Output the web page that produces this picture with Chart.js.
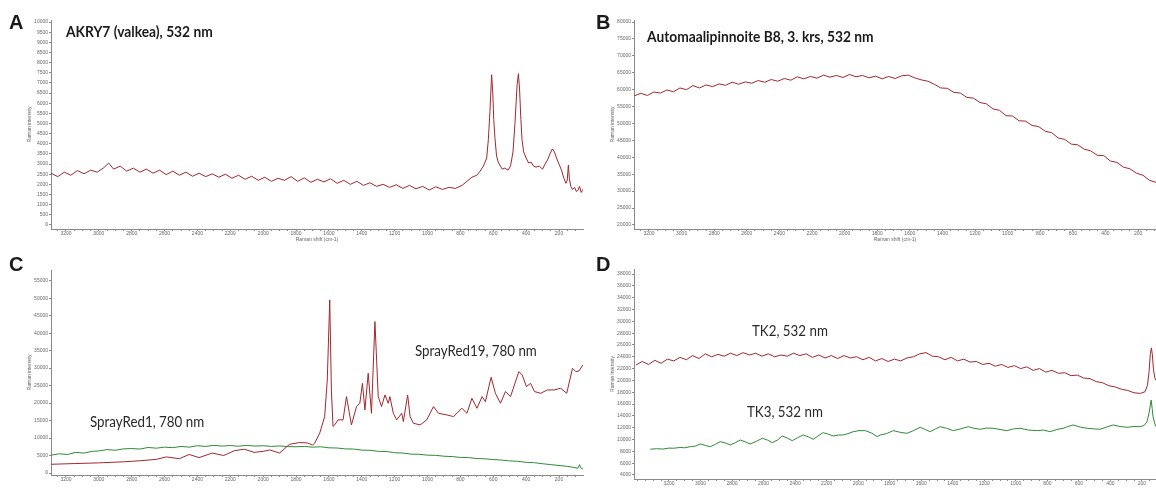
<!DOCTYPE html>
<html>
<head>
<meta charset="utf-8">
<script src="https://cdn.jsdelivr.net/npm/chart.js@4.4.1/dist/chart.umd.min.js"></script>
<style>
  html, body { margin: 0; padding: 0; background: #fff; }
  #fig { position: relative; width: 1156px; height: 489px; overflow: hidden; background: #fff; }
  #fig canvas { position: absolute; }
  .txt { position: absolute; white-space: nowrap; line-height: 1; color: #1b1b1b; transform-origin: left top; }
  .letter { font-family: "Liberation Sans", Arial, sans-serif; font-weight: bold; font-size: 20px; }
  .head { font-family: Lato, "Open Sans", sans-serif; font-weight: bold; font-size: 14.5px; transform: scaleX(0.95); }
  .tag { font-family: Lato, "Open Sans", sans-serif; font-size: 15.5px; color: #2a2a2a; transform: scaleX(0.86); }
</style>
</head>
<body>
<div id="fig">
  <canvas id="chartA" width="590" height="246" style="left:0;top:0"></canvas>
  <canvas id="chartB" width="566" height="246" style="left:590px;top:0"></canvas>
  <canvas id="chartC" width="590" height="243" style="left:0;top:246px"></canvas>
  <canvas id="chartD" width="566" height="243" style="left:590px;top:246px"></canvas>

  <div class="txt letter" style="left:9px;top:12px">A</div>
  <div class="txt letter" style="left:596px;top:12px">B</div>
  <div class="txt letter" style="left:9px;top:254px">C</div>
  <div class="txt letter" style="left:596px;top:254px">D</div>

  <div class="txt head" style="left:66px;top:25px">AKRY7 (valkea), 532 nm</div>
  <div class="txt head" style="left:647px;top:30px">Automaalipinnoite B8, 3. krs, 532 nm</div>
  <div class="txt tag" style="left:90px;top:414px">SprayRed1, 780 nm</div>
  <div class="txt tag" style="left:415px;top:343px">SprayRed19, 780 nm</div>
  <div class="txt tag" style="left:752px;top:323px">TK2, 532 nm</div>
  <div class="txt tag" style="left:747px;top:404px">TK3, 532 nm</div>
</div>

<script>
// tick labels
const shiftLabels = [3200, 3000, 2800, 2600, 2400, 2200, 2000, 1800, 1600, 1400, 1200, 1000, 800, 600, 400, 200];
const akryYTicks = [0, 500, 1000, 1500, 2000, 2500, 3000, 3500, 4000, 4500, 5000,
  5500, 6000, 6500, 7000, 7500, 8000, 8500, 9000, 9500, 10000];
const autoYTicks = [20000, 25000, 30000, 35000, 40000, 45000, 50000, 55000, 60000,
  65000, 70000, 75000, 80000];
const sprayYTicks = [0, 5000, 10000, 15000, 20000, 25000, 30000, 35000, 40000,
  45000, 50000, 55000];
const tkYTicks = [4000, 6000, 8000, 10000, 12000, 14000, 16000, 18000, 20000, 22000,
  24000, 26000, 28000, 30000, 32000, 34000, 36000, 38000];

// A: AKRY7 (valkea), 532 nm
const akryShift = [3290, 3250, 3210, 3170, 3130, 3090, 3050, 3010, 2970, 2940,
  2910, 2870, 2830, 2790, 2750, 2710, 2670, 2630, 2590, 2550, 2510, 2470, 2430, 2390,
  2350, 2310, 2270, 2230, 2190, 2150, 2110, 2070, 2030, 1990, 1950, 1910, 1870, 1830,
  1790, 1750, 1710, 1670, 1630, 1590, 1550, 1510, 1470, 1430, 1390, 1350, 1310, 1270,
  1230, 1190, 1150, 1110, 1070, 1030, 990, 950, 910, 870, 830, 790,
  760, 730, 700, 680, 660, 640, 630, 620, 610, 603, 597, 590, 580, 570, 560, 545, 530,
  510, 495, 480, 468, 455, 447, 440, 432, 425, 415, 400, 385, 370, 355, 340, 320, 300,
  285, 270, 255, 240, 228, 215, 200, 185, 170, 158, 150, 143, 137, 128, 118, 105, 95,
  85, 75, 65, 55];
const akryIntensity = [2550, 2380, 2600, 2450, 2680, 2520, 2700, 2600, 2820, 3050,
  2750, 2900, 2650, 2800, 2600, 2750, 2550, 2700, 2480, 2650, 2450, 2600, 2400, 2550,
  2380, 2520, 2350, 2500, 2300, 2450, 2250, 2400, 2200, 2350, 2150, 2300, 2200, 2380,
  2150, 2320, 2100, 2250, 2120, 2280, 2050, 2200, 2000, 2150, 1950, 2080, 1900, 2000,
  1850, 1980, 1800, 1950, 1780, 1900, 1720, 1880, 1750, 1850, 1800, 1950,
  2150, 2350, 2450, 2650, 2900, 3300, 4200, 5600, 7400, 6500, 5200, 4300, 3400, 3100,
  2950, 2750, 2800, 2700, 2900, 3600, 5000, 6900, 7450, 6700, 5200, 4200, 3600, 3300,
  3050, 3100, 2900, 2850, 2900, 2750, 3000, 3200, 3500, 3750, 3600, 3300, 3000, 2700,
  2300, 2050, 2200, 2950, 2300, 1900, 1750, 1850, 1650, 1700, 1900, 1600, 1750];

// B: Automaalipinnoite B8, 3. krs, 532 nm
const autoShift = [3290, 3250, 3210, 3170, 3130, 3090, 3050, 3010, 2970, 2930,
  2890, 2850, 2810, 2770, 2730, 2690, 2650, 2610, 2570, 2530, 2490, 2450, 2410, 2370,
  2330, 2290, 2250, 2210, 2170, 2130, 2090, 2050, 2010, 1970, 1930, 1890, 1850, 1810,
  1770, 1730, 1690, 1650, 1610, 1570, 1530, 1490, 1450, 1410, 1370, 1330, 1290, 1250,
  1210, 1170, 1130, 1090, 1050, 1010, 970, 930, 890, 850, 810, 770, 730, 690, 650, 610,
  570, 530, 490, 450, 410, 370, 330, 290, 250, 210, 170, 130, 90];
const autoIntensity = [58200, 58900, 58300, 59300, 59000, 59900, 59400, 60500, 60000, 61200,
  60500, 61400, 60900, 61700, 61300, 62200, 61600, 62300, 61900, 62700,
  62200, 63000, 62500, 63300, 62800, 63800, 63200, 63900, 63400, 64300,
  63700, 64200, 63600, 64500, 63800, 64200, 63500, 64000, 63200, 63900,
  63300, 64100, 64300, 63500, 62900, 62500, 61600, 60500, 60400, 59200,
  59000, 57700, 57500, 56200, 55800, 54300, 53900, 52300, 52200, 50800,
  50700, 49400, 49100, 47700, 47300, 45700, 45300, 43900, 43700, 42400,
  41900, 40600, 40500, 38900, 38500, 37100, 36600, 35300, 34700, 33200, 32600];

// C: SprayRed19 (red) and SprayRed1 (green), 780 nm
const sr19Shift = [3290, 3150, 3000, 2850, 2750, 2650, 2590, 2510, 2450, 2390,
  2310, 2240, 2175, 2115, 2055, 2000, 1960, 1900, 1840, 1780,
  1730, 1700, 1687, 1656, 1626, 1610, 1595, 1585, 1575, 1565,
  1544, 1514, 1493, 1463, 1432, 1412, 1396, 1381, 1361, 1341,
  1320, 1300, 1280, 1259, 1239, 1229, 1208, 1188, 1157, 1147,
  1121, 1106, 1086, 1045, 1005, 964, 933, 882, 842, 791,
  760, 730, 699, 668, 648, 613, 587, 556, 526, 495,
  444, 424, 398, 373, 349, 312, 271, 231, 190, 153, 118, 98, 78, 55];
const sr19Intensity = [2500, 2700, 2900, 3200, 3500, 3900, 4600, 4100, 5300, 4400,
  5700, 5000, 6400, 6800, 5900, 6200, 6600, 5700, 8200, 8700,
  8600, 8000, 8500, 11400, 16100, 26600, 49500, 23700, 13300, 13750,
  15200, 15200, 21850, 13750, 19000, 19950, 25660, 18040, 28520, 17080,
  43300, 21850, 19000, 22330, 19950, 21850, 17080, 15180, 17080, 14700,
  22330, 16130, 14230, 13750, 15180, 19000, 17080, 16610, 16130, 18510,
  17080, 21370, 18510, 21850, 20420, 27380, 22800, 19950, 23280, 21850,
  29000, 28040, 24710, 25660, 23280, 22800, 23750, 23750, 24230, 22800, 29950, 29000, 29190, 30900];
const sr1Shift = [3290, 3240, 3190, 3140, 3090, 3040, 3000, 2950, 2900, 2850,
  2800, 2750, 2700, 2650, 2600, 2550, 2500, 2450, 2400, 2350, 2300, 2250, 2200, 2150,
  2100, 2050, 2000, 1950, 1900, 1850, 1800, 1750, 1700, 1650, 1600, 1550, 1500, 1450,
  1400, 1350, 1300, 1250, 1200, 1150, 1100, 1050, 1000, 950, 900, 850, 800, 750, 700,
  650, 600, 550, 500, 450, 400, 350, 300, 250, 200, 150, 110, 85, 75, 68, 55];
const sr1Intensity = [5100, 5500, 5300, 5900, 5700, 6200, 6300, 6700, 6500, 6900,
  7000, 6850, 7300, 7100, 7400, 7250, 7600, 7400, 7800, 7600, 7900, 7700, 7850, 7650,
  7900, 7700, 7800, 7600, 7750, 7550, 7500, 7600, 7400, 7500, 7200, 7150, 6900, 6850,
  6550, 6500, 6200, 6150, 5800, 5700, 5400, 5350, 5100, 5050, 4800, 4700, 4450, 4400,
  4150, 4050, 3850, 3700, 3450, 3350, 3050, 2950, 2650, 2400, 2150, 1900, 1600, 1350,
  2400, 1500, 1150];

// D: TK2 (red) and TK3 (green), 532 nm
const tk2Shift = [3410, 3370, 3330, 3290, 3250, 3210, 3170, 3130, 3090, 3050,
  3010, 2970, 2930, 2890, 2850, 2810, 2770, 2730, 2690, 2650, 2610, 2570, 2530, 2490,
  2450, 2410, 2370, 2330, 2290, 2250, 2210, 2170, 2130, 2090, 2050, 2010, 1970, 1930,
  1890, 1850, 1810, 1770, 1730, 1690, 1650, 1610, 1570, 1530, 1490, 1450, 1410, 1370,
  1330, 1290, 1250, 1210, 1170, 1130, 1090, 1050, 1010, 970, 930, 890, 850, 810, 770,
  730, 690, 650, 610, 570, 530, 490, 450, 410, 370, 330, 290, 250, 210,
  180, 165, 155, 147, 140, 134, 127, 118, 111];
const tk2Intensity = [22600, 23200, 22700, 23400, 22900, 23600, 23300, 23900, 23500, 24200,
  23700, 24500, 24000, 24400, 24100, 24600, 24200, 24700, 24300, 24600,
  24100, 24500, 24000, 24300, 24100, 24600, 24200, 24500, 23900, 24300,
  23800, 24200, 23700, 24200, 23800, 24000, 23500, 23900, 23300, 23700,
  23200, 23600, 23300, 23800, 24000, 24500, 24700, 24100, 24000, 23500,
  23900, 23300, 23600, 23100, 23200, 22700, 22900, 22400, 22700, 22200,
  22500, 22000, 22300, 21700, 22000, 21400, 21700, 21200, 21300, 20800,
  20900, 20400, 20300, 19800, 19600, 19100, 18900, 18500, 18300, 17900, 17800,
  18100, 19200, 21500, 24500, 25500, 24300, 21800, 20400, 20000];
const tk3Shift = [3319, 3280, 3240, 3200, 3173, 3130, 3100, 3065, 3030, 3002,
  2970, 2938, 2905, 2875, 2840, 2811, 2780, 2748, 2715, 2685,
  2645, 2608, 2575, 2545, 2510, 2482, 2450, 2418, 2385, 2349,
  2315, 2285, 2255, 2222, 2190, 2158, 2125, 2095, 2065, 2031,
  1995, 1955, 1915, 1879, 1860, 1820, 1778, 1730, 1690, 1650,
  1607, 1575, 1543, 1510, 1480, 1440, 1397, 1350, 1302, 1265,
  1226, 1185, 1144, 1100, 1055, 1015, 973, 920, 865, 825,
  782, 740, 700, 670, 637, 590, 548, 505, 466, 425,
  383, 340, 294, 250, 212, 185, 168, 155, 142, 135, 130, 120, 111];
const tk3Intensity = [8350, 8450, 8380, 8550, 8520, 8650, 8600, 8790, 8900, 9250,
  9000, 8790, 9200, 9640, 9400, 9080, 9450, 9920, 9600, 9250,
  9700, 10210, 9900, 9470, 9950, 10600, 10250, 9800, 10300, 10770,
  10450, 10040, 10600, 11160, 10900, 10600, 10750, 10770, 11000, 11330,
  11500, 11500, 11100, 10480, 10770, 11000, 11500, 11200, 11050, 11500,
  12070, 11700, 11330, 11800, 12170, 11900, 11500, 11800, 12170, 11900,
  11730, 11950, 11900, 11700, 11500, 11800, 11900, 11600, 11500, 11600,
  11330, 11700, 11900, 12200, 12460, 12100, 11900, 11800, 11730, 12100,
  12460, 12200, 12070, 12200, 12170, 12400, 13020, 14500, 16690, 15200, 13860, 12800, 12170];

const RED = "#a3272c";
const GREEN = "#2f8a35";
const AXIS = "#8a8a8a";
const TICK_COLOR = "#666";
const tickFont = { family: "Liberation Sans", size: 5 };

function toPoints(xs, ys) {
  return xs.map((x, i) => ({ x: x, y: ys[i] }));
}

// labelled ticks every 200 plus unlabelled marks every 50 in between
function shiftTicks(scale) {
  const marks = [];
  for (let v = 50; v <= 3450; v += 50) {
    if (v >= scale.min && v <= scale.max) marks.push({ value: v });
  }
  scale.ticks = marks;
}

function makePanel(canvasId, series, opt) {
  const datasets = series.map((s) => ({
    data: toPoints(s.x, s.y),
    borderColor: s.color,
    borderWidth: 1,
    pointRadius: 0,
    tension: 0,
    fill: false,
  }));
  return new Chart(document.getElementById(canvasId), {
    type: "line",
    data: { datasets: datasets },
    options: {
      responsive: false,
      animation: false,
      events: [],
      layout: { padding: opt.pad },
      plugins: { legend: { display: false }, tooltip: { enabled: false } },
      scales: {
        x: {
          type: "linear",
          reverse: true,
          min: opt.xMin,
          max: opt.xMax,
          afterBuildTicks: shiftTicks,
          afterFit: (scale) => { scale.height = opt.xH; },
          border: { color: AXIS, width: 1 },
          grid: { drawOnChartArea: false, drawTicks: true, tickLength: 2, color: AXIS },
          ticks: {
            autoSkip: false,
            maxRotation: 0,
            padding: 0,
            font: tickFont,
            color: TICK_COLOR,
            callback: (v) => (shiftLabels.includes(v) ? String(v) : ""),
          },
          title: {
            display: opt.xTitle,
            text: "Raman shift (cm-1)",
            font: tickFont,
            color: TICK_COLOR,
            padding: { top: 0, bottom: 3 },
          },
        },
        y: {
          min: opt.yMin,
          max: opt.yMax,
          afterBuildTicks: (scale) => { scale.ticks = opt.yTicks.map((v) => ({ value: v })); },
          afterFit: (scale) => { scale.width = opt.yW; },
          border: { color: AXIS, width: 1 },
          grid: { drawOnChartArea: false, drawTicks: true, tickLength: 2, color: AXIS },
          ticks: {
            autoSkip: false,
            padding: 1,
            font: tickFont,
            color: TICK_COLOR,
            callback: (v) => String(v),
          },
          title: {
            display: true,
            text: "Raman intensity",
            font: tickFont,
            color: TICK_COLOR,
            padding: { top: opt.yTitlePad, bottom: 0 },
          },
        },
      },
    },
  });
}

makePanel("chartA", [{ x: akryShift, y: akryIntensity, color: RED }], {
  xMin: 54, xMax: 3291, yMin: -200, yMax: 10100, yTicks: akryYTicks,
  yW: 51, xH: 17, pad: { top: 20, right: 7, left: 0, bottom: 0 }, xTitle: true, yTitlePad: 27,
});
makePanel("chartB", [{ x: autoShift, y: autoIntensity, color: RED }], {
  xMin: 90, xMax: 3292, yMin: 18800, yMax: 80600, yTicks: autoYTicks,
  yW: 44, xH: 17, pad: { top: 20, right: 0, left: 0, bottom: 0 }, xTitle: true, yTitlePad: 20,
});
makePanel("chartC", [
  { x: sr19Shift, y: sr19Intensity, color: RED },
  { x: sr1Shift, y: sr1Intensity, color: GREEN },
], {
  xMin: 54, xMax: 3291, yMin: -570, yMax: 58060, yTicks: sprayYTicks,
  yW: 51, xH: 14, pad: { top: 24, right: 7, left: 0, bottom: 0 }, xTitle: false, yTitlePad: 27,
});
makePanel("chartD", [
  { x: tk2Shift, y: tk2Intensity, color: RED },
  { x: tk3Shift, y: tk3Intensity, color: GREEN },
], {
  xMin: 111, xMax: 3422, yMin: 3320, yMax: 38850, yTicks: tkYTicks,
  yW: 44, xH: 10, pad: { top: 23, right: 0, left: 0, bottom: 0 }, xTitle: false, yTitlePad: 20,
});
</script>
</body>
</html>
